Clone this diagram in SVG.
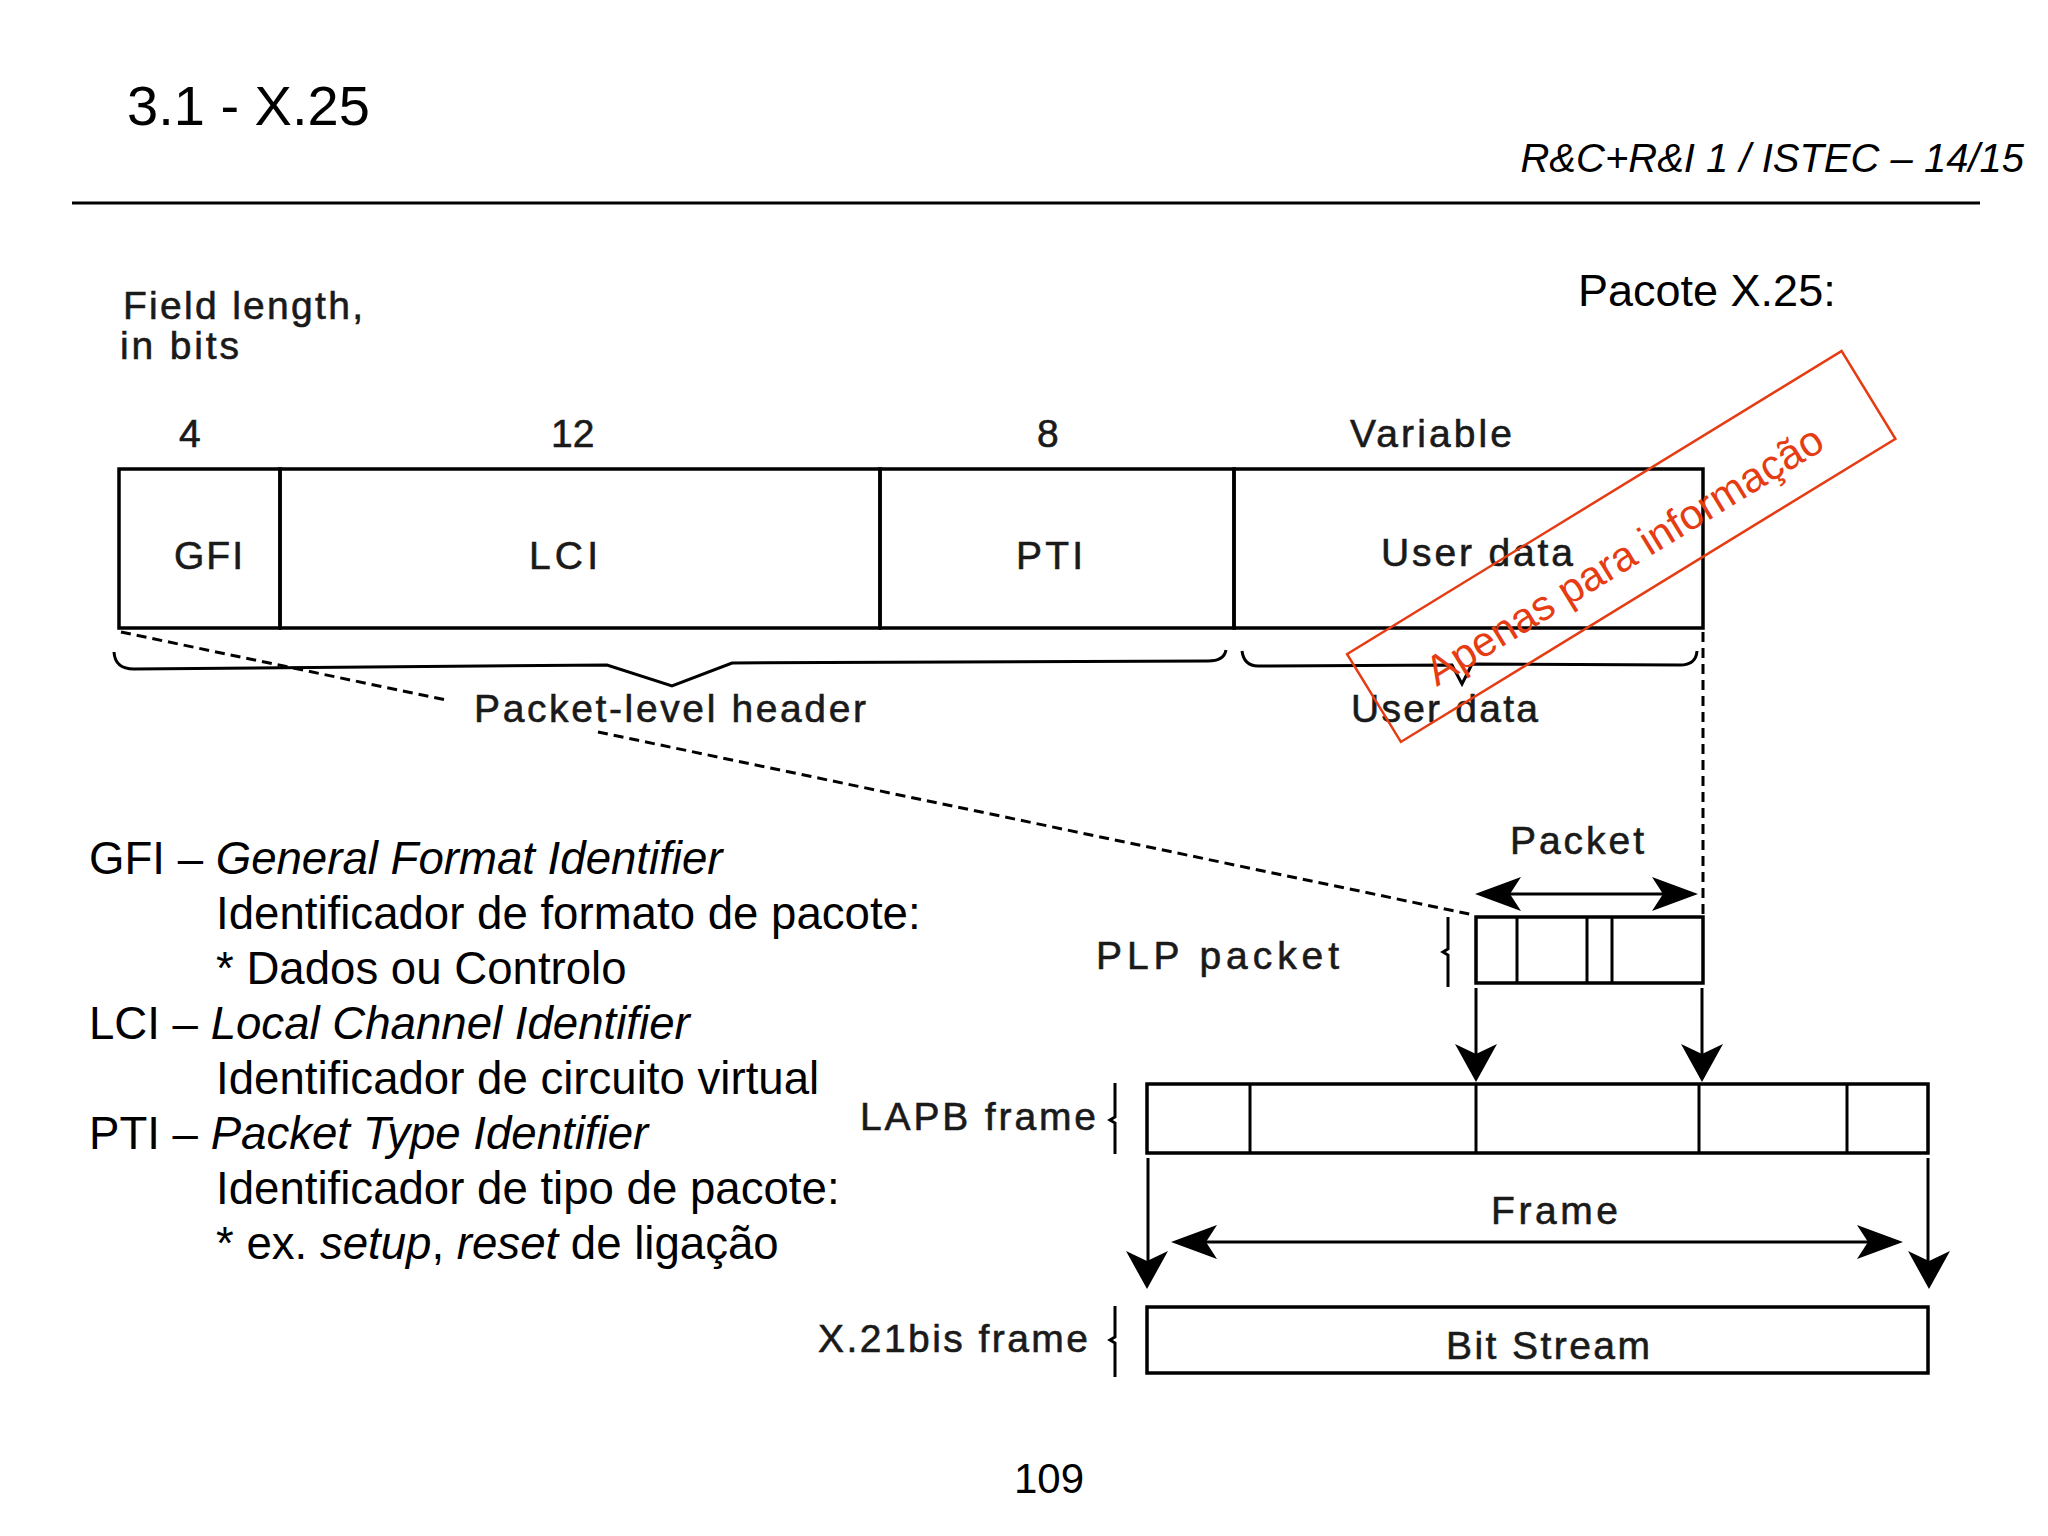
<svg xmlns="http://www.w3.org/2000/svg" width="2048" height="1536" viewBox="0 0 2048 1536">
<style>
.t{font-family:"Liberation Sans",Arial,sans-serif;fill:#000}
.px{font-family:"Liberation Sans",Arial,sans-serif;font-size:39px;fill:#1a1a1a;stroke:#1a1a1a;stroke-width:0.6}
.lg{font-family:"Liberation Sans",Arial,sans-serif;font-size:45.6px;fill:#000}
.box{fill:none;stroke:#000;stroke-width:3.5}
.ln{fill:none;stroke:#000;stroke-width:3}
.dash{fill:none;stroke:#000;stroke-width:3;stroke-dasharray:10 6}
.hd{fill:#000}
</style>
<defs>
<path id="head" d="M0,0 L-46,-17 L-35,0 L-46,17 Z"/>
<path id="headv" d="M0,0 L-38,-21 L-28,0 L-38,21 Z"/>
</defs>
<rect width="2048" height="1536" fill="#fff"/>

<g id="title">
<text class="t" x="127" y="125" font-size="56">3.1 - X.25</text>
<text class="t" x="2024" y="172" font-size="40" font-style="italic" text-anchor="end">R&amp;C+R&amp;I 1 / ISTEC – 14/15</text>
<line x1="72" y1="203" x2="1980" y2="203" stroke="#000" stroke-width="3"/>
<text class="t" x="1578" y="306" font-size="45">Pacote X.25:</text>
</g>

<g id="field-length-labels">
<text class="px" x="123" y="319" font-size="35" textLength="240" lengthAdjust="spacing">Field length,</text>
<text class="px" x="120" y="359" font-size="35" textLength="119" lengthAdjust="spacing">in bits</text>
<text class="px" x="179" y="447">4</text>
<text class="px" x="551" y="447">12</text>
<text class="px" x="1037" y="447">8</text>
<text class="px" x="1350" y="447" textLength="162" lengthAdjust="spacing">Variable</text>
</g>

<g id="packet-format">
<g id="gfi"><rect class="box" x="119" y="469" width="161" height="159"/><text class="px" x="174" y="569" textLength="69" lengthAdjust="spacing">GFI</text></g>
<g id="lci"><rect class="box" x="280" y="469" width="600" height="159"/><text class="px" x="529" y="569" textLength="69" lengthAdjust="spacing">LCI</text></g>
<g id="pti"><rect class="box" x="880" y="469" width="354" height="159"/><text class="px" x="1016" y="569" textLength="67" lengthAdjust="spacing">PTI</text></g>
<g id="user-data"><rect class="box" x="1234" y="469" width="469" height="159"/><text class="px" x="1381" y="566" textLength="192" lengthAdjust="spacing">User data</text></g>
</g>

<g id="braces">
<path class="ln" d="M114,652 Q115,669 134,669 L607,665 L672,686 L732,663 L1208,661 Q1224,661 1226,650"/>
<path class="ln" d="M1242,651 Q1244,666 1258,666 L1452,665 L1462,684 L1472,664 L1680,665 Q1696,665 1697,651"/>
<text class="px" x="474" y="722" textLength="392" lengthAdjust="spacing">Packet-level header</text>
<text class="px" x="1351" y="722" textLength="187" lengthAdjust="spacing">User data</text>
</g>

<g id="plp-packet">
<rect class="box" x="1476" y="917" width="227" height="66"/>
<line class="ln" x1="1517" y1="917" x2="1517" y2="983"/>
<line class="ln" x1="1587" y1="917" x2="1587" y2="983"/>
<line class="ln" x1="1612" y1="917" x2="1612" y2="983"/>
<path class="ln" d="M1448,917 L1448,949 L1443,952 L1448,955 L1448,987"/>
<text class="px" x="1096" y="969" textLength="243" lengthAdjust="spacing">PLP packet</text>
<text class="px" x="1510" y="854" textLength="134" lengthAdjust="spacing">Packet</text>
</g>

<g id="lapb-frame">
<rect class="box" x="1147" y="1084" width="781" height="69"/>
<line class="ln" x1="1250" y1="1084" x2="1250" y2="1153"/>
<line class="ln" x1="1476" y1="1084" x2="1476" y2="1153"/>
<line class="ln" x1="1699" y1="1084" x2="1699" y2="1153"/>
<line class="ln" x1="1847" y1="1084" x2="1847" y2="1153"/>
<path class="ln" d="M1115,1083 L1115,1117 L1110,1120 L1115,1123 L1115,1154"/>
<text class="px" x="860" y="1130" textLength="236" lengthAdjust="spacing">LAPB frame</text>
<text class="px" x="1491" y="1224" textLength="127" lengthAdjust="spacing">Frame</text>
</g>

<g id="x21bis-frame">
<rect class="box" x="1147" y="1307" width="781" height="66"/>
<path class="ln" d="M1115,1306 L1115,1337 L1110,1340 L1115,1343 L1115,1377"/>
<text class="px" x="818" y="1352" textLength="270" lengthAdjust="spacing">X.21bis frame</text>
<text class="px" x="1446" y="1359" textLength="204" lengthAdjust="spacing">Bit Stream</text>
</g>

<g id="connectors">
<line class="dash" x1="121" y1="632" x2="446" y2="700"/>
<line class="dash" x1="598" y1="732" x2="1474" y2="915"/>
<line class="dash" x1="1703" y1="632" x2="1703" y2="915"/>
<line class="ln" x1="1490" y1="894" x2="1684" y2="894"/>
<use href="#head" class="hd" transform="translate(1475,894) rotate(180)"/>
<use href="#head" class="hd" transform="translate(1698,894)"/>
<line class="ln" x1="1476" y1="988" x2="1476" y2="1070"/>
<use href="#headv" class="hd" transform="translate(1476,1082) rotate(90)"/>
<line class="ln" x1="1702" y1="988" x2="1702" y2="1070"/>
<use href="#headv" class="hd" transform="translate(1702,1082) rotate(90)"/>
<line class="ln" x1="1148" y1="1158" x2="1148" y2="1278"/>
<use href="#headv" class="hd" transform="translate(1147,1289) rotate(90)"/>
<line class="ln" x1="1928" y1="1158" x2="1928" y2="1278"/>
<use href="#headv" class="hd" transform="translate(1929,1289) rotate(90)"/>
<line class="ln" x1="1186" y1="1242" x2="1888" y2="1242"/>
<use href="#head" class="hd" transform="translate(1171,1242) rotate(180)"/>
<use href="#head" class="hd" transform="translate(1903,1242)"/>
</g>

<g id="legend">
<text class="lg" x="89" y="874">GFI – <tspan font-style="italic">General Format Identifier</tspan></text>
<text class="lg" x="216" y="929">Identificador de formato de pacote:</text>
<text class="lg" x="216" y="984">* Dados ou Controlo</text>
<text class="lg" x="89" y="1039">LCI – <tspan font-style="italic">Local Channel Identifier</tspan></text>
<text class="lg" x="216" y="1094">Identificador de circuito virtual</text>
<text class="lg" x="89" y="1149">PTI – <tspan font-style="italic">Packet Type Identifier</tspan></text>
<text class="lg" x="216" y="1204">Identificador de tipo de pacote:</text>
<text class="lg" x="216" y="1259">* ex. <tspan font-style="italic">setup</tspan>, <tspan font-style="italic">reset</tspan> de ligação</text>
</g>

<g id="watermark" transform="translate(1621,546) rotate(-31.5)">
<rect x="-290" y="-51" width="580" height="103" fill="none" stroke="#E63C14" stroke-width="2.5"/>
<text class="t" x="-2" y="24" font-size="42" text-anchor="middle" style="fill:#E63C14">Apenas para informação</text>
</g>

<text id="page-number" class="t" x="1049" y="1493" font-size="42" text-anchor="middle">109</text>
</svg>
